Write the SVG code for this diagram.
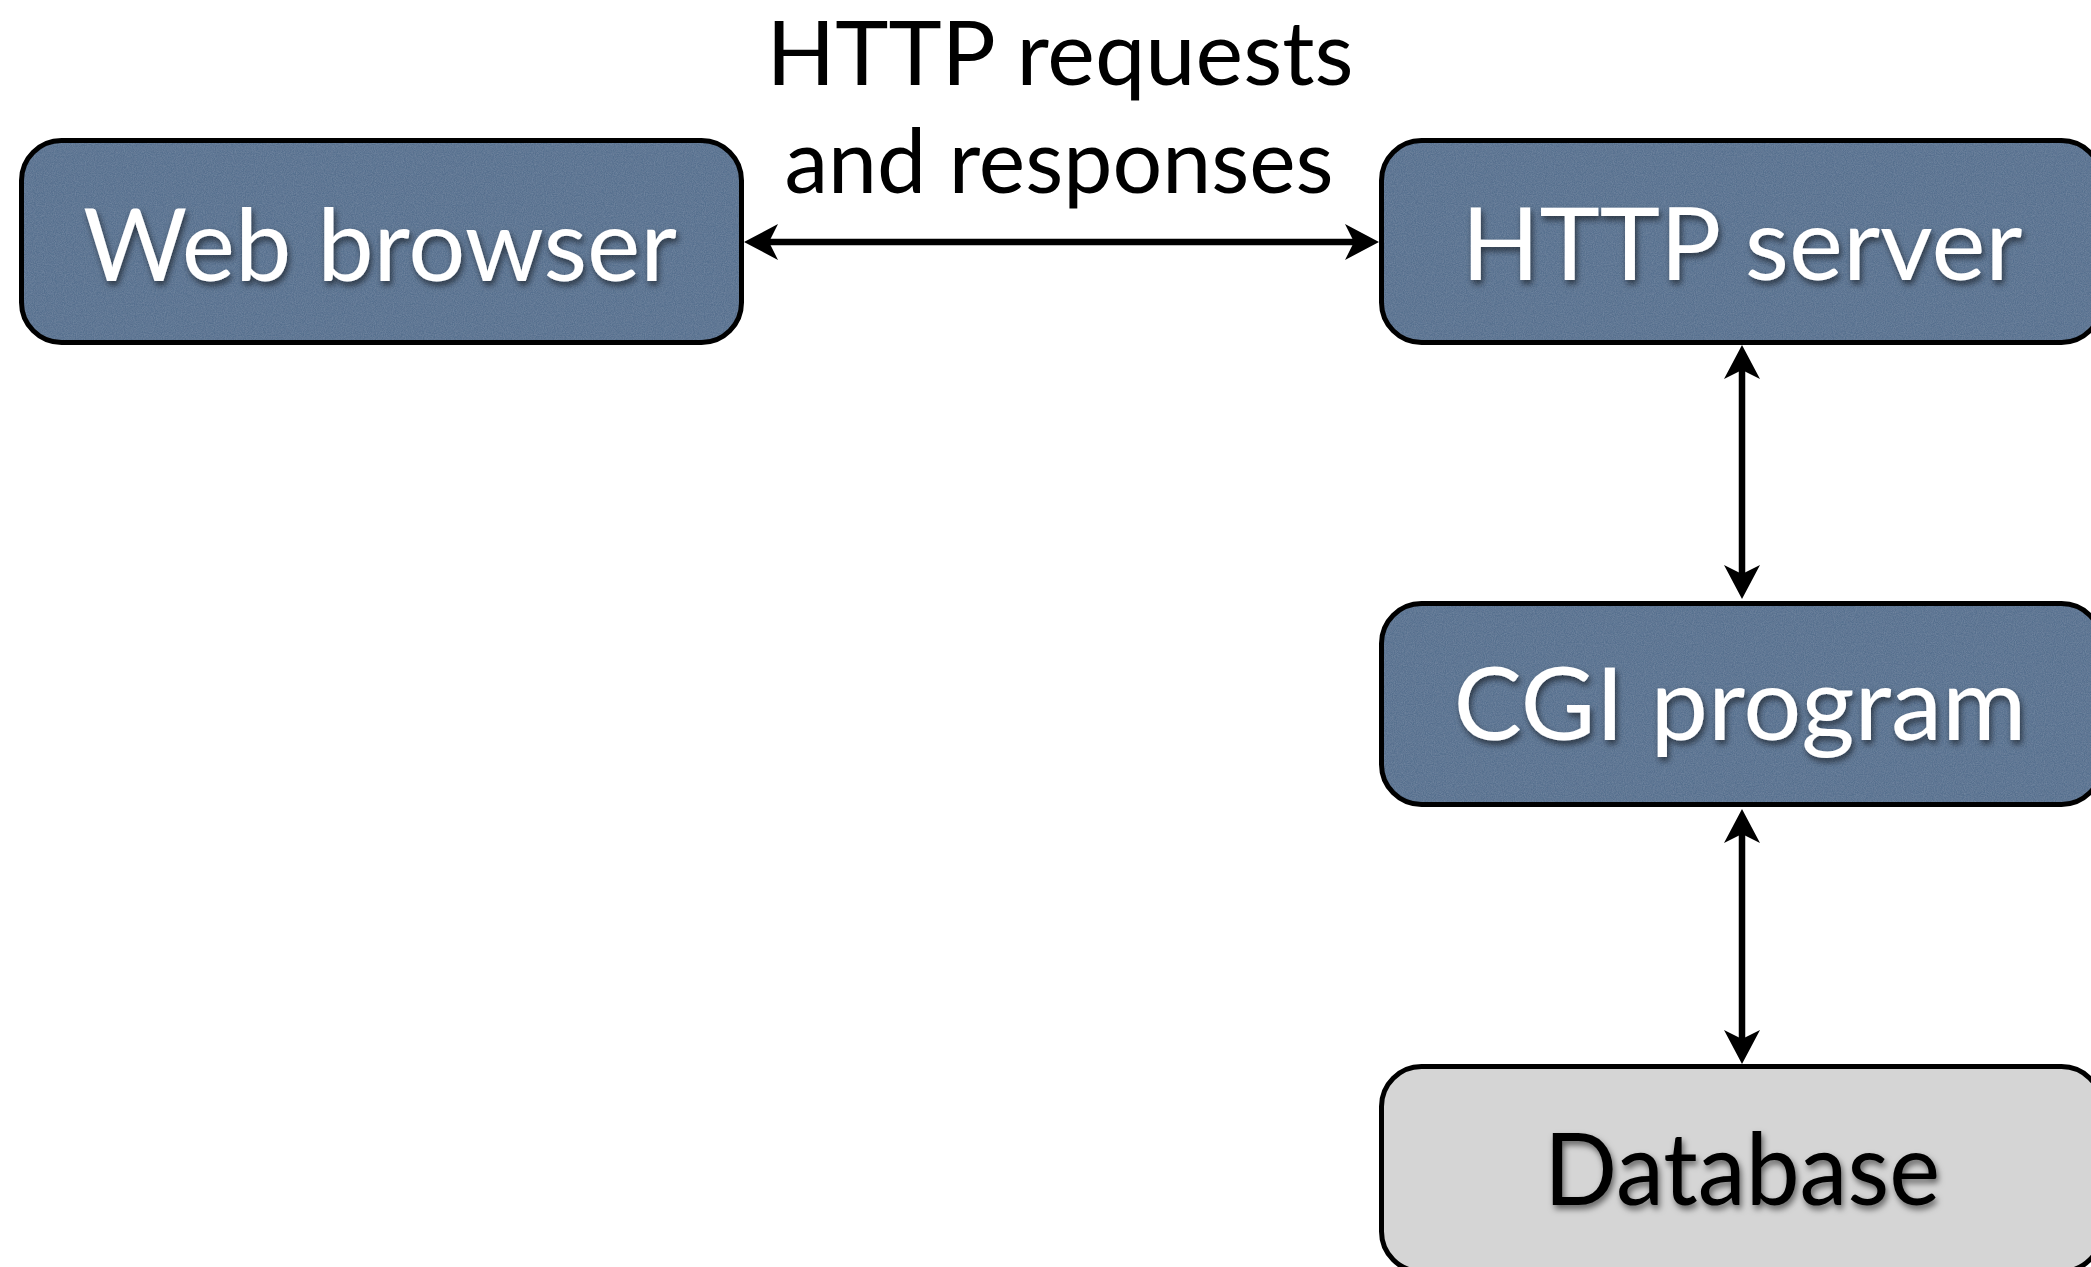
<svg xmlns="http://www.w3.org/2000/svg" width="2091" height="1267" viewBox="0 0 2091 1267">
<style>
.fillb{fill:#57708e;stroke:none}
.edge{fill:none;stroke:#000;stroke-width:5}
.db{fill:#d5d5d5;stroke:#000;stroke-width:5}
.t{font-family:Lato,"Open Sans","Liberation Sans",sans-serif;font-size:100px;text-anchor:middle;fill:#fff}
.dark{fill:#000}
.lbl{font-family:Lato,"Open Sans","Liberation Sans",sans-serif;font-size:90px;text-anchor:middle;fill:#000}
.conn{stroke:#000;stroke-width:6.5;fill:none}
</style>
<defs>
<filter id="tex" x="0" y="0" width="1" height="1">
<feTurbulence type="fractalNoise" baseFrequency="0.9" numOctaves="2" seed="4" result="n"/>
<feColorMatrix in="n" type="matrix" values="0 0 0 0 0.45  0 0 0 0 0.55  0 0 0 0 0.68  0 0 0 0.3 -0.08" result="c"/>
<feComposite in="c" in2="SourceGraphic" operator="in" result="m"/>
<feMerge><feMergeNode in="SourceGraphic"/><feMergeNode in="m"/></feMerge>
</filter>
<filter id="sh" x="-10%" y="-20%" width="120%" height="150%">
<feDropShadow dx="2" dy="4" stdDeviation="3" flood-color="#000" flood-opacity="0.55"/>
</filter>
<marker id="ah" markerUnits="userSpaceOnUse" viewBox="-16 -20 40 40" refX="0" refY="0" markerWidth="40" markerHeight="40" orient="auto-start-reverse">
<path d="M20,0 L-14,-18 L-5,0 L-14,18 Z" fill="#000"/>
</marker>
</defs>
<g id="connectors">
<line class="conn" x1="764" y1="242" x2="1359" y2="242" marker-start="url(#ah)" marker-end="url(#ah)"/>
<line class="conn" x1="1742" y1="365" x2="1742" y2="579" marker-start="url(#ah)" marker-end="url(#ah)"/>
<line class="conn" x1="1742" y1="829" x2="1742" y2="1044" marker-start="url(#ah)" marker-end="url(#ah)"/>
</g>
<g id="label">
<text class="lbl" x="1060" y="85" textLength="587" lengthAdjust="spacingAndGlyphs">HTTP requests</text>
<text class="lbl" x="1059" y="193" textLength="549" lengthAdjust="spacingAndGlyphs">and responses</text>
</g>
<g id="web-browser">
<rect class="fillb" x="21.5" y="140.5" width="720" height="202" rx="40" filter="url(#tex)"/>
<rect class="edge" x="21.5" y="140.5" width="720" height="202" rx="40"/>
<text class="t" x="380" y="281" textLength="594" lengthAdjust="spacingAndGlyphs" filter="url(#sh)">Web browser</text>
</g>
<g id="http-server">
<rect class="fillb" x="1381.5" y="140.5" width="720" height="202" rx="40" filter="url(#tex)"/>
<rect class="edge" x="1381.5" y="140.5" width="720" height="202" rx="40"/>
<text class="t" x="1742" y="280" textLength="561" lengthAdjust="spacingAndGlyphs" filter="url(#sh)">HTTP server</text>
</g>
<g id="cgi-program">
<rect class="fillb" x="1381.5" y="603.5" width="720" height="201" rx="40" filter="url(#tex)"/>
<rect class="edge" x="1381.5" y="603.5" width="720" height="201" rx="40"/>
<text class="t" x="1740" y="740" textLength="573" lengthAdjust="spacingAndGlyphs" filter="url(#sh)">CGI program</text>
</g>
<g id="database">
<rect class="db" x="1381.5" y="1066.5" width="720" height="205" rx="40"/>
<text class="t dark" x="1742" y="1205" textLength="396" lengthAdjust="spacingAndGlyphs" filter="url(#sh)">Database</text>
</g>
</svg>
